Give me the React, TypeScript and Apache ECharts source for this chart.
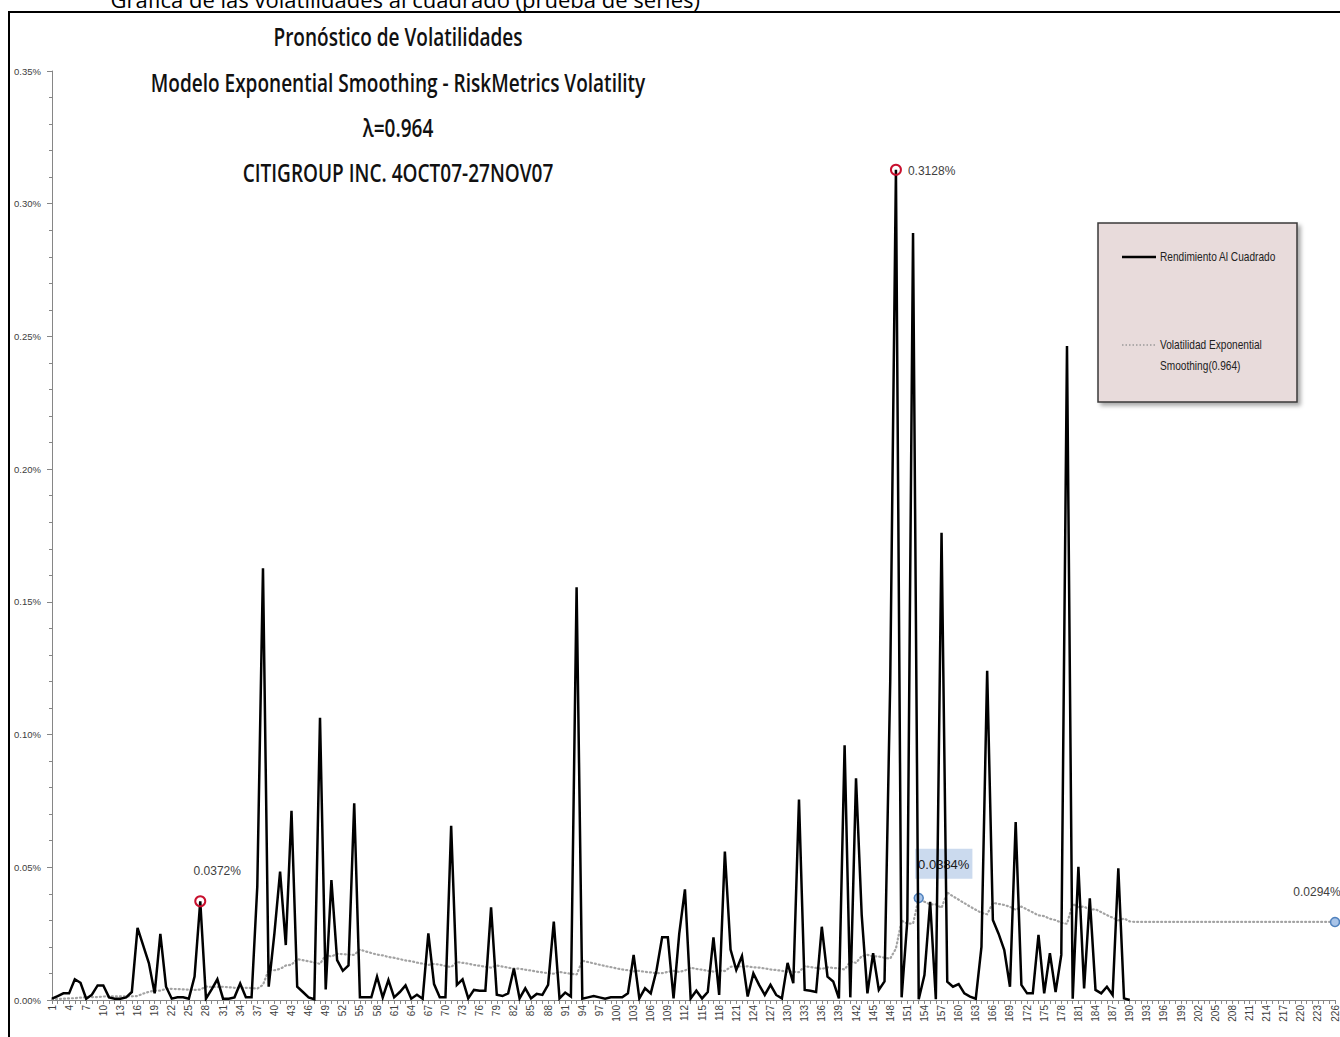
import React, { useEffect, useRef } from 'react';
import * as echarts from 'echarts';

// ---------- DATA ----------
const categories: string[] = Array.from({ length: 226 }, (_, i) => String(i + 1));

// Rendimiento al cuadrado (%), days 1..190
const rendimiento: number[] = [
  0.0005, 0.0015, 0.0025, 0.0025, 0.0078, 0.0065, 0.0005, 0.0020, 0.0055, 0.0055,
  0.0010, 0.0005, 0.0005, 0.0010, 0.0030, 0.0272, 0.0205, 0.0138, 0.0025, 0.0249,
  0.0050, 0.0005, 0.0010, 0.0010, 0.0005, 0.0088, 0.0372, 0.0005, 0.0040, 0.0078,
  0.0005, 0.0005, 0.0010, 0.0062, 0.0010, 0.0010, 0.0427, 0.1627, 0.0050, 0.0250,
  0.0484, 0.0207, 0.0713, 0.0050, 0.0030, 0.0010, 0.0003, 0.1063, 0.0040, 0.0452,
  0.0150, 0.0110, 0.0130, 0.0741, 0.0010, 0.0010, 0.0010, 0.0088, 0.0010, 0.0075,
  0.0010, 0.0030, 0.0055, 0.0005, 0.0020, 0.0005, 0.0251, 0.0060, 0.0010, 0.0010,
  0.0656, 0.0057, 0.0078, 0.0006, 0.0038, 0.0035, 0.0035, 0.0349, 0.0020, 0.0015,
  0.0025, 0.0119, 0.0006, 0.0044, 0.0006, 0.0023, 0.0019, 0.0057, 0.0295, 0.0006,
  0.0028, 0.0013, 0.1555, 0.0005, 0.0010, 0.0015, 0.0010, 0.0005, 0.0010, 0.0010,
  0.0010, 0.0025, 0.0170, 0.0006, 0.0044, 0.0025, 0.0110, 0.0236, 0.0236, 0.0006,
  0.0250, 0.0417, 0.0006, 0.0035, 0.0006, 0.0030, 0.0236, 0.0019, 0.0559, 0.0190,
  0.0113, 0.0166, 0.0013, 0.0100, 0.0057, 0.0019, 0.0057, 0.0019, 0.0006, 0.0140,
  0.0063, 0.0755, 0.0038, 0.0035, 0.0030, 0.0276, 0.0088, 0.0070, 0.0006, 0.0960,
  0.0010, 0.0835, 0.0320, 0.0025, 0.0176, 0.0038, 0.0070, 0.1200, 0.3128, 0.0010,
  0.0300, 0.2890, 0.0003, 0.0094, 0.0370, 0.0003, 0.1760, 0.0069, 0.0050, 0.0060,
  0.0025, 0.0013, 0.0005, 0.0200, 0.1240, 0.0301, 0.0250, 0.0188, 0.0050, 0.0670,
  0.0057, 0.0025, 0.0025, 0.0245, 0.0025, 0.0176, 0.0030, 0.0170, 0.2464, 0.0005,
  0.0502, 0.0044, 0.0383, 0.0038, 0.0025, 0.0050, 0.0019, 0.0496, 0.0006, 0.0000,
];

// Volatilidad Exponential Smoothing (0.964) (%), days 1..226
const volatilidad: number[] = [
  0.0003, 0.0004, 0.0005, 0.0006, 0.0007, 0.0009, 0.0011, 0.0011, 0.0011, 0.0013,
  0.0014, 0.0014, 0.0014, 0.0014, 0.0014, 0.0015, 0.0024, 0.0031, 0.0035, 0.0035,
  0.0042, 0.0042, 0.0041, 0.0040, 0.0039, 0.0038, 0.0039, 0.0051, 0.0049, 0.0049,
  0.0050, 0.0048, 0.0046, 0.0045, 0.0046, 0.0045, 0.0043, 0.0057, 0.0114, 0.0112,
  0.0117, 0.0130, 0.0133, 0.0154, 0.0150, 0.0146, 0.0141, 0.0136, 0.0169, 0.0164,
  0.0174, 0.0173, 0.0171, 0.0170, 0.0190, 0.0183, 0.0177, 0.0171, 0.0168, 0.0162,
  0.0159, 0.0154, 0.0149, 0.0146, 0.0141, 0.0137, 0.0132, 0.0136, 0.0133, 0.0128,
  0.0124, 0.0143, 0.0140, 0.0137, 0.0132, 0.0129, 0.0125, 0.0122, 0.0130, 0.0126,
  0.0122, 0.0118, 0.0118, 0.0114, 0.0111, 0.0107, 0.0104, 0.0101, 0.0099, 0.0106,
  0.0102, 0.0099, 0.0096, 0.0148, 0.0143, 0.0138, 0.0133, 0.0128, 0.0124, 0.0119,
  0.0115, 0.0112, 0.0108, 0.0110, 0.0106, 0.0104, 0.0101, 0.0101, 0.0106, 0.0110,
  0.0106, 0.0111, 0.0122, 0.0117, 0.0114, 0.0110, 0.0107, 0.0112, 0.0109, 0.0125,
  0.0127, 0.0126, 0.0127, 0.0123, 0.0122, 0.0119, 0.0115, 0.0113, 0.0110, 0.0106,
  0.0107, 0.0105, 0.0128, 0.0124, 0.0121, 0.0117, 0.0123, 0.0121, 0.0119, 0.0115,
  0.0145, 0.0140, 0.0165, 0.0170, 0.0164, 0.0164, 0.0159, 0.0156, 0.0194, 0.0299,
  0.0288, 0.0288, 0.0384, 0.0370, 0.0360, 0.0360, 0.0347, 0.0405, 0.0391, 0.0378,
  0.0365, 0.0352, 0.0340, 0.0328, 0.0323, 0.0366, 0.0362, 0.0358, 0.0351, 0.0340,
  0.0352, 0.0341, 0.0330, 0.0319, 0.0316, 0.0306, 0.0301, 0.0291, 0.0287, 0.0362,
  0.0350, 0.0352, 0.0340, 0.0342, 0.0331, 0.0320, 0.0310, 0.0300, 0.0307, 0.0296,
  0.0294, 0.0294, 0.0294, 0.0294, 0.0294, 0.0294, 0.0294, 0.0294, 0.0294, 0.0294,
  0.0294, 0.0294, 0.0294, 0.0294, 0.0294, 0.0294, 0.0294, 0.0294, 0.0294, 0.0294,
  0.0294, 0.0294, 0.0294, 0.0294, 0.0294, 0.0294, 0.0294, 0.0294, 0.0294, 0.0294,
  0.0294, 0.0294, 0.0294, 0.0294, 0.0294, 0.0294,
];

const rendHighlights: number[] = [27, 149];
const volHighlights: number[] = [153, 226];

const titleLines: string[] = [
  'Pronóstico de Volatilidades',
  'Modelo Exponential Smoothing - RiskMetrics Volatility',
  'λ=0.964',
  'CITIGROUP INC. 4OCT07-27NOV07',
];
const seriesNames: string[] = ['Rendimiento Al Cuadrado', 'Volatilidad Exponential Smoothing(0.964)'];
const legendLines: string[] = ['Rendimiento Al Cuadrado', 'Volatilidad Exponential', 'Smoothing(0.964)'];
const topCutText = 'Gráfica de las volatilidades al cuadrado (prueba de series)';

// ---------- HELPERS ----------
function measure(text: string, font: string): number {
  const c = document.createElement('canvas').getContext('2d');
  if (!c) return text.length * 10;
  c.font = font;
  return c.measureText(text).width;
}

const pct4 = (p: any) => Number(p.value).toFixed(4) + '%';

export default function App() {
  const ref = useRef<HTMLDivElement>(null);

  useEffect(() => {
    if (!ref.current) return;
    const chart = echarts.init(ref.current, null, { renderer: 'svg' });

    // title sizing
    const titleFont = 'Open Sans';
    const titleSize = 25;
    const titleW = measure(titleLines[1], `600 ${titleSize}px "${titleFont}"`);
    const titleScale = 495 / titleW;
    const titleYs = [36, 82, 127, 172];

    const legFont = 'Liberation Sans';
    const legSize = 12;
    const legW = measure(legendLines[0], `${legSize}px "${legFont}"`);
    const legScale = 116 / legW;

    const redRing = {
      color: 'rgba(255,255,255,0)',
      borderColor: '#c8102e',
      borderWidth: 2,
    };
    const blueDot = {
      color: '#a9c4e8',
      borderColor: '#4f81bd',
      borderWidth: 1.5,
    };

    const rendLabel: Record<number, any> = {
      27: { show: true, position: 'top', distance: 18, offset: [17, 0], formatter: pct4, fontSize: 12, color: '#404040', fontFamily: 'Liberation Sans' },
      149: { show: true, position: 'right', distance: 6, offset: [0, 1], formatter: pct4, fontSize: 12, color: '#404040', fontFamily: 'Liberation Sans' },
    };
    const volLabel: Record<number, any> = {
      153: {
        show: true, position: 'top', distance: 14, offset: [25, 0], formatter: pct4,
        fontSize: 13, color: '#1a1a1a', fontFamily: 'Liberation Sans',
        backgroundColor: 'rgba(185,205,232,0.75)', padding: [9, 3, 8, 3],
      },
      226: { show: true, position: 'top', distance: 19, offset: [-18, 0], formatter: pct4, fontSize: 12, color: '#404040', fontFamily: 'Liberation Sans' },
    };

    const rendData = rendimiento.map((v, i) => {
      const cat = i + 1;
      if (rendHighlights.includes(cat)) {
        return { value: v, symbol: 'circle', symbolSize: 10, itemStyle: redRing, label: rendLabel[cat] };
      }
      return v;
    });
    const volData = volatilidad.map((v, i) => {
      const cat = i + 1;
      if (volHighlights.includes(cat)) {
        return { value: v, symbol: 'circle', symbolSize: 9, itemStyle: blueDot, label: volLabel[cat] };
      }
      return v;
    });

    const titleGraphics = titleLines.map((t, k) => ({
      type: 'text',
      x: 398,
      y: titleYs[k],
      scaleX: titleScale,
      silent: true,
      style: {
        text: t,
        fontFamily: titleFont,
        fontSize: titleSize,
        fontWeight: 600,
        fill: '#111',
        align: 'center',
        verticalAlign: 'middle',
        textAlign: 'center',
        textVerticalAlign: 'middle',
      },
    }));

    const legText = (t: string, x: number, y: number) => ({
      type: 'text',
      x, y,
      scaleX: legScale,
      silent: true,
      style: {
        text: t, fontFamily: legFont, fontSize: legSize, fill: '#222',
        align: 'left', verticalAlign: 'middle', textAlign: 'left', textVerticalAlign: 'middle',
      },
    });

    const option: any = {
      animation: false,
      backgroundColor: '#ffffff',
      grid: { left: 52, right: 5, top: 71, bottom: 37, containLabel: false },
      xAxis: {
        type: 'category',
        data: categories,
        boundaryGap: false,
        axisLine: { show: true, lineStyle: { color: '#868686', width: 1 } },
        axisTick: { show: true, interval: 0, length: 4, lineStyle: { color: '#868686' } },
        axisLabel: { interval: 2, rotate: 90, fontSize: 10, color: '#404040', margin: 5, fontFamily: 'Liberation Sans' },
        splitLine: { show: false },
      },
      yAxis: {
        type: 'value',
        min: 0,
        max: 0.35,
        interval: 0.05,
        axisLine: { show: true, lineStyle: { color: '#868686', width: 1 } },
        axisTick: { show: true, length: 5, lineStyle: { color: '#868686' } },
        minorTick: { show: true, splitNumber: 5, length: 3, lineStyle: { color: '#868686' } },
        splitLine: { show: false },
        axisLabel: {
          formatter: (v: number) => v.toFixed(2) + '%',
          fontSize: 9.5, color: '#404040', margin: 11, fontFamily: 'Liberation Sans',
        },
      },
      series: [
        {
          type: 'line',
          name: seriesNames[0],
          data: rendData,
          symbol: 'none',
          showSymbol: true,
          showAllSymbol: true,
          lineStyle: { color: '#000', width: 2.5, join: 'miter' },
          itemStyle: { color: '#000' },
          z: 4,
        },
        {
          type: 'line',
          name: seriesNames[1],
          data: volData,
          symbol: 'none',
          showSymbol: true,
          showAllSymbol: true,
          lineStyle: { color: '#a3a3a3', width: 2.2, type: [1, 3], cap: 'round' },
          itemStyle: { color: '#a3a3a3' },
          z: 3,
        },
      ],
      graphic: [
        {
          type: 'rect', silent: true, z: -1,
          shape: { x: 9, y: 12, width: 1400, height: 1100 },
          style: { fill: 'none', stroke: '#000', lineWidth: 2 },
        },
        {
          type: 'text', x: 700, y: -1, silent: true,
          style: {
            text: topCutText, fontFamily: 'Open Sans', fontSize: 22, fill: '#000',
            align: 'right', verticalAlign: 'middle', textAlign: 'right', textVerticalAlign: 'middle',
          },
        },
        ...titleGraphics,
        {
          type: 'rect', silent: true, z: 10,
          shape: { x: 1098, y: 223, width: 199, height: 179 },
          style: {
            fill: '#e8dbdb', stroke: '#3a3a3a', lineWidth: 1.5,
            shadowBlur: 4, shadowColor: 'rgba(0,0,0,0.35)', shadowOffsetX: 3, shadowOffsetY: 3,
          },
        },
        {
          type: 'line', silent: true, z: 11,
          shape: { x1: 1122, y1: 257, x2: 1156, y2: 257 },
          style: { stroke: '#000', lineWidth: 2.5 },
        },
        { ...legText(legendLines[0], 1160, 257), z: 11 },
        {
          type: 'line', silent: true, z: 11,
          shape: { x1: 1122, y1: 345, x2: 1156, y2: 345 },
          style: { stroke: '#9a9a9a', lineWidth: 1.5, lineDash: [1.5, 2] },
        },
        { ...legText(legendLines[1], 1160, 345), z: 11 },
        { ...legText(legendLines[2], 1160, 366), z: 11 },
      ],
    };

    chart.setOption(option);
    return () => chart.dispose();
  }, []);

  return (
    <div
      ref={ref}
      style={{ position: 'fixed', left: 0, top: 0, width: 1340, height: 1037, background: '#fff' }}
    />
  );
}
